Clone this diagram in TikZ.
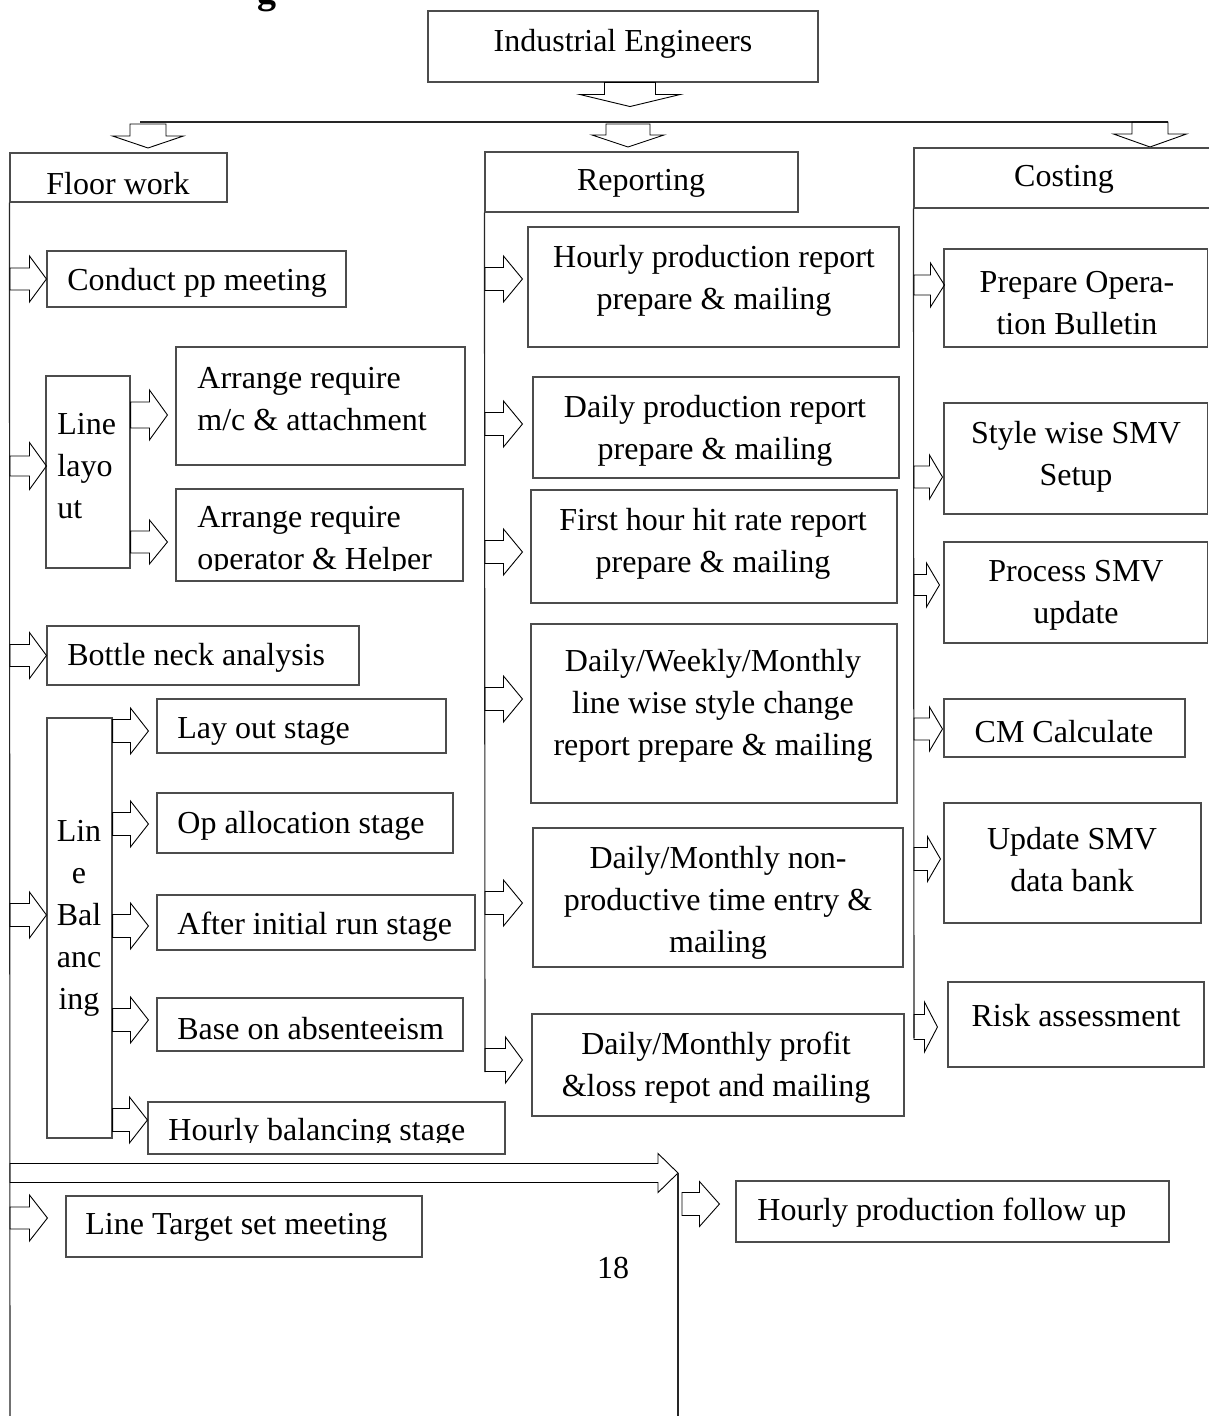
\documentclass[tikz,border=0pt]{standalone}
\usepackage{fontspec}
\setmainfont{Liberation Serif}
\usetikzlibrary{calc,fit}

% horizontal block arrow: stem (x taken from it), tip, shaft half-height, head half-height, head length
\newcommand\harrow[5]{%
  \draw[arr] ($(#1 |- #2)+(0,-#3)$) -- ($(#2)+(-#5,-#3)$) -- ($(#2)+(-#5,-#4)$) -- (#2)
    -- ($(#2)+(-#5,#4)$) -- ($(#2)+(-#5,#3)$) -- ($(#1 |- #2)+(0,#3)$) -- cycle;}
% downward block arrow: top centre, shaft half-width, head half-width, shaft length, head length
\newcommand\varrow[5]{%
  \draw[arr] ($(#1)+(-#2,0)$) -- ($(#1)+(-#2,#4)$) -- ($(#1)+(-#3,#4)$) -- ($(#1)+(0,#4+#5)$)
    -- ($(#1)+(#3,#4)$) -- ($(#1)+(#2,#4)$) -- ($(#1)+(#2,0)$) -- cycle;}

\begin{document}
\begin{tikzpicture}[x=0.5pt,y=-0.5pt,
  font=\fontsize{16}{21}\selectfont,
  box/.style={draw=black!70, line width=0.55pt, inner sep=0pt},
  txt/.style={inner sep=0pt, align=center, yshift=-1.25pt},
  ltxt/.style={inner sep=0pt, align=left, anchor=west, yshift=-1.25pt},
  arr/.style={draw=black, line width=0.45pt, line join=miter},
  stem/.style={draw=black!85, line width=0.55pt}]

\fill[white] (0,0) rectangle (1208,1416);
\useasboundingbox (0,0) rectangle (1208,1416);

% cut-off heading above the chart
\node[inner sep=0pt, anchor=base, font=\fontsize{19}{23}\selectfont\bfseries] (hd) at (267,4) {g};

% ---------- top ----------
\node[box, fit={(428,11) (818,82)}] (ie) {};
\node[txt] (ie-t) at (623,41) {Industrial Engineers};
\coordinate (ie-out) at ($(ie.south)+(7,0)$);
\varrow{ie-out}{25.5}{50}{12}{12}

\coordinate (bus-w) at (140,122);
\coordinate (bus-e) at (1168,122);
\draw[stem] (bus-w) -- (bus-e);
\coordinate (d1) at (148,124);
\coordinate (d2) at (628,124);
\coordinate (d3) at (1150,122);
\varrow{d1}{18}{35.5}{12}{12}
\varrow{d2}{22}{36}{11}{12}
\varrow{d3}{18}{36.5}{12}{13}

% ---------- column heads and stems ----------
\node[box, fit={(10,153) (227,202)}] (fw) {};
\node[txt] (fw-t) at (118,181) {Floor work};
\node[box, fit={(485,152) (798,212)}] (rp) {};
\node[txt] (rp-t) at (641,181) {Reporting};
\node[box, fit={(914,148) (1216,208)}] (cs) {};
\node[txt] (cs-t) at (1064,177) {Costing};

\coordinate (fw-stem) at (10,0);
\coordinate (rp-stem) at (485,0);
\coordinate (cs-stem) at (914,0);
\coordinate (fw-end) at (10,1416);
\coordinate (rp-end) at (485,1072);
\coordinate (cs-end) at (914,1038);
\draw[stem] (fw.south west) -- (fw-end);
\draw[stem] (rp.south west) -- (rp-end);
\draw[stem] (cs.south west) -- (cs-end);

% ---------- floor work ----------
\node[box, fit={(47,251) (346,307)}] (cpp) {};
\node[ltxt] (cpp-t) at (67,280) {Conduct pp meeting};
\harrow{fw-stem}{cpp.west}{11}{23}{17}

\node[box, fit={(46,376) (130,568)}] (ll) {};
\node[ltxt] (ll-t) at (57,464) {Line\\layo\\ut};
\coordinate (t-ll) at ($(ll.west)+(1,-6)$);
\harrow{fw-stem}{t-ll}{10}{23.5}{17}

\node[box, fit={(176,347) (465,465)}] (ar1) {};
\node[ltxt] (ar1-t) at (197,397) {Arrange require\\m/c \& attachment};
\coordinate (t-ar1) at ($(ar1.west)+(-8,9)$);
\harrow{ll.east}{t-ar1}{13}{25}{18}

\node[box, fit={(176,489) (463,581)}] (ar2) {};
\begin{scope}
  \clip (ar2.north west) rectangle ($(ar2.south east)+(0,-11)$);
  \node[ltxt] (ar2-t) at (197,539) {Arrange require\\operator \& Helper};
\end{scope}
\coordinate (t-ar2) at ($(ar2.west)+(-8,7)$);
\harrow{ll.east}{t-ar2}{11}{22}{18}

\node[box, fit={(47,626) (359,685)}] (bn) {};
\node[ltxt] (bn-t) at (67,655) {Bottle neck analysis};
\harrow{fw-stem}{bn.west}{11}{23}{17}

\node[box, fit={(47,718) (112,1138)}] (lb) {};
\node[txt] (lb-t) at (79,916) {Lin\\e\\Bal\\anc\\ing};
\coordinate (t-lb) at ($(lb.west)+(0,-13)$);
\harrow{fw-stem}{t-lb}{11.5}{23}{17}

\node[box, fit={(157,699) (446,753)}] (los) {};
\node[ltxt] (los-t) at (177,729) {Lay out stage};
\coordinate (t-los) at ($(los.west)+(-8,5)$);
\harrow{lb.east}{t-los}{11.5}{23}{18}

\node[box, fit={(157,793) (453,853)}] (opa) {};
\node[ltxt] (opa-t) at (177,823) {Op allocation stage};
\coordinate (t-opa) at ($(opa.west)+(-8,1)$);
\harrow{lb.east}{t-opa}{11.5}{23}{18}

\node[box, fit={(157,895) (475,950)}] (air) {};
\node[ltxt] (air-t) at (177,924) {After initial run stage};
\coordinate (t-air) at ($(air.west)+(-8,3.5)$);
\harrow{lb.east}{t-air}{11.5}{23}{18}

\node[box, fit={(157,998) (463,1051)}] (boa) {};
\node[ltxt] (boa-t) at (177,1026) {Base on absenteeism};
\coordinate (t-boa) at ($(boa.west)+(-8,-4.5)$);
\harrow{lb.east}{t-boa}{11.5}{23}{18}

\node[box, fit={(148,1102) (505,1154)}] (hbs) {};
\begin{scope}
  \clip (hbs.north west) rectangle ($(hbs.south east)+(0,-12)$);
  \node[ltxt] (hbs-t) at (168,1130) {Hourly balancing stage};
\end{scope}
\coordinate (t-hbs) at ($(hbs.west)+(0,-8)$);
\harrow{lb.east}{t-hbs}{11.5}{23}{18}

% long arrow to the follow-up branch
\coordinate (big-tip) at (678,1173);
\coordinate (big-end) at (678,1416);
\harrow{fw-stem}{big-tip}{9.5}{19.5}{20}
\draw[stem] (big-tip) -- (big-end);

\node[box, fit={(66,1196) (422,1257)}] (lts) {};
\node[ltxt] (lts-t) at (85,1225) {Line Target set meeting};
\coordinate (t-lts) at ($(lts.west)+(-18,-8.5)$);
\harrow{fw-stem}{t-lts}{11}{23}{18}

\node[box, fit={(736,1181) (1169,1242)}] (hpf) {};
\node[ltxt] (hpf-t) at (757,1210) {Hourly production follow up};
\coordinate (hpf-stem) at (682,0);
\coordinate (t-hpf) at ($(hpf.west)+(-16,-7.5)$);
\harrow{hpf-stem}{t-hpf}{11.5}{22.5}{20}

\node[txt] (pg) at (613,1266) {18};

% ---------- reporting ----------
\node[box, fit={(528,227) (899,347)}] (hpr) {};
\node[txt] (hpr-t) at (714,278) {Hourly production report\\prepare \& mailing};
\coordinate (t-hpr) at ($(hpr.west)+(-5,-8)$);
\harrow{rp-stem}{t-hpr}{11.5}{23}{19}

\node[box, fit={(533,377) (899,478)}] (dpr) {};
\node[txt] (dpr-t) at (715,428) {Daily production report\\prepare \& mailing};
\coordinate (t-dpr) at ($(dpr.west)+(-10,-3.5)$);
\harrow{rp-stem}{t-dpr}{11.5}{23}{19}

\node[box, fit={(531,490) (897,603)}] (fhr) {};
\node[txt] (fhr-t) at (713,541) {First hour hit rate report\\prepare \& mailing};
\coordinate (t-fhr) at ($(fhr.west)+(-8,5.5)$);
\harrow{rp-stem}{t-fhr}{11.5}{23}{19}

\node[box, fit={(531,624) (897,803)}] (dwm) {};
\node[txt] (dwm-t) at (713,703) {Daily/Weekly/Monthly\\line wise style change\\report prepare \& mailing};
\coordinate (t-dwm) at ($(dwm.west)+(-8,-14.5)$);
\harrow{rp-stem}{t-dwm}{11.5}{23}{19}

\node[box, fit={(533,828) (903,967)}] (npt) {};
\node[txt] (npt-t) at (718,900) {Daily/Monthly non-\\productive time entry \&\\mailing};
\coordinate (t-npt) at ($(npt.west)+(-10,5.5)$);
\harrow{rp-stem}{t-npt}{11.5}{23}{19}

\node[box, fit={(532,1014) (904,1116)}] (pl) {};
\node[txt] (pl-t) at (716,1065) {Daily/Monthly profit\\\&loss repot and mailing};
\coordinate (t-pl) at ($(pl.west)+(-9,-5)$);
\harrow{rp-stem}{t-pl}{11.5}{23}{17}

% ---------- costing ----------
\node[box, fit={(944,249) (1207.5,347)}] (pob) {};
\node[txt] (pob-t) at (1077,301) {Prepare Opera-\\tion Bulletin};
\coordinate (t-pob) at ($(pob.west)+(1,-13)$);
\harrow{cs-stem}{t-pob}{10}{22}{14}

\node[box, fit={(944,403) (1207.5,514)}] (sws) {};
\node[txt] (sws-t) at (1076,454) {Style wise SMV\\Setup};
\coordinate (t-sws) at ($(sws.west)+(-1,18.5)$);
\harrow{cs-stem}{t-sws}{11}{22}{13}

\node[box, fit={(944,542) (1207.5,643)}] (psu) {};
\node[txt] (psu-t) at (1076,593) {Process SMV\\update};
\coordinate (t-psu) at ($(psu.west)+(-4,-7.5)$);
\harrow{cs-stem}{t-psu}{10.5}{22}{13}

\node[box, fit={(944,699) (1185,757)}] (cmc) {};
\node[txt] (cmc-t) at (1064,729) {CM Calculate};
\coordinate (t-cmc) at ($(cmc.west)+(-1,1)$);
\harrow{cs-stem}{t-cmc}{11}{22}{13}

\node[box, fit={(944,803) (1201,923)}] (usd) {};
\node[txt] (usd-t) at (1072,857) {Update SMV\\data bank};
\coordinate (t-usd) at ($(usd.west)+(-3,-4)$);
\harrow{cs-stem}{t-usd}{11.5}{22.5}{13}

\node[box, fit={(948,982) (1204,1067)}] (ra) {};
\node[txt] (ra-t) at (1076,1013) {Risk assessment};
\coordinate (t-ra) at ($(ra.west)+(-10,2.5)$);
\harrow{cs-stem}{t-ra}{12.5}{25}{13}

\end{tikzpicture}
\end{document}
